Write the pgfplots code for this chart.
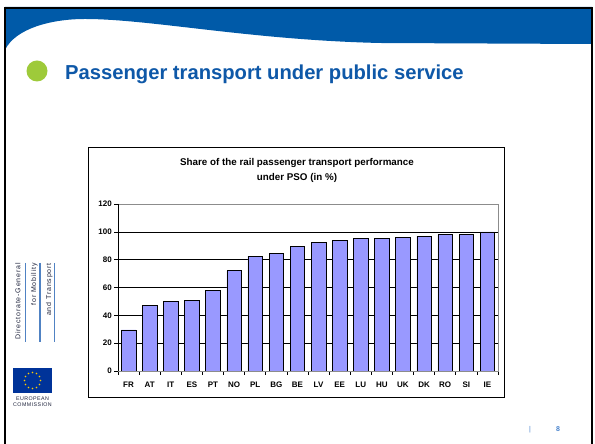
\documentclass[border=0pt]{standalone}
\usepackage{fontspec}
\setmainfont{Liberation Sans}
\newfontfamily\lsfont[LetterSpace=12]{Liberation Sans}
\newfontfamily\eufont[LetterSpace=8]{Liberation Sans}
\usepackage{pgfplots}
\pgfplotsset{compat=1.18}
\definecolor{band}{RGB}{0,90,168}
\definecolor{ttl}{RGB}{14,88,168}
\definecolor{dot}{RGB}{158,202,58}
\definecolor{barfill}{RGB}{153,153,255}
\definecolor{euflag}{RGB}{0,51,153}
\definecolor{star}{RGB}{255,204,0}
\definecolor{dgline}{RGB}{80,130,195}
\definecolor{dgtext}{RGB}{30,35,60}
\definecolor{pnum}{RGB}{70,130,205}
\begin{document}
\begin{tikzpicture}[x=1pt,y=1pt]
\path[use as bounding box, fill=white] (0,0) rectangle (595,444);
% blue band
\fill[band] (5,437) -- (592,437) -- (592,400) -- (380,401) .. controls (250,404) and (150,425) .. (85,425) .. controls (50,425) and (15,415) .. (5,394) -- cycle;
\draw[black, line width=2pt] (5,-10) -- (5,436) -- (592,436) -- (592,-10);
% slide title
\fill[dot] (37,373) circle (10.5);
\node[anchor=base west, inner sep=0, text=ttl, font=\fontsize{20.2}{24}\selectfont\bfseries] at (65,364) {Passenger transport under public service};
% chart frame
\draw[black, line width=1pt] (88,46) rectangle (504,296);
\node[anchor=base, inner sep=0, font=\fontsize{9.8}{12}\selectfont\bfseries] at (297,278) {Share of the rail passenger transport performance};
\node[anchor=base, inner sep=0, font=\fontsize{9.8}{12}\selectfont\bfseries] at (297,263.5) {under PSO (in \%)};
\begin{axis}[
  at={(118pt,73pt)}, anchor=south west,
  scale only axis, width=380pt, height=167pt,
  xmin=-0.5, xmax=17.5, ymin=0, ymax=120,
  ytick={0,20,40,60,80,100,120},
  xtick={0,1,...,17},
  xticklabels={FR,AT,IT,ES,PT,NO,PL,BG,BE,LV,EE,LU,HU,UK,DK,RO,SI,IE},
  minor xtick={-0.5,0.5,...,17.5},
  major x tick style={draw=none},
  xtick pos=bottom, ytick pos=left,
  tick align=outside,
  major tick length=4pt, minor tick length=4pt,
  tick style={black, line width=0.6pt},
  ymajorgrids, grid style={black, line width=0.5pt},
  axis line style={black!45, line width=0.8pt},
  ticklabel style={font=\fontsize{8}{9}\selectfont\bfseries},
  /pgf/number format/assume math mode=true,
  yticklabel style={inner sep=2pt},
  xticklabel style={yshift=-3pt},
]
\addplot[ybar, bar width=14.5pt, fill=barfill, draw=black, line width=0.6pt] coordinates {
(0,29.5) (1,47) (2,50) (3,50.5) (4,58) (5,72) (6,82.5) (7,84.5) (8,89.5)
(9,92.5) (10,94) (11,95) (12,95.5) (13,96) (14,97) (15,98) (16,98) (17,100)};
\draw[black, line width=0.8pt] (rel axis cs:0,1) -- (rel axis cs:0,0) -- (rel axis cs:1,0);
\end{axis}
% left logo block
\node[rotate=90, anchor=base east, inner sep=0, text=dgtext, font=\lsfont\fontsize{7}{8}\selectfont] at (20.5,181) {Directorate-General};
\node[rotate=90, anchor=base east, inner sep=0, text=dgtext, font=\lsfont\fontsize{7}{8}\selectfont] at (36,181) {for Mobility};
\node[rotate=90, anchor=base east, inner sep=0, text=dgtext, font=\lsfont\fontsize{7}{8}\selectfont] at (51,181) {and Transport};
\draw[dgline, line width=1.3pt] (25.5,181) -- (25.5,102);
\draw[dgline, line width=1.3pt] (40,181) -- (40,102);
\draw[dgline, line width=1.3pt] (54.5,181) -- (54.5,102);
\fill[euflag] (13,51) rectangle (52,76);
\foreach \a in {0,30,...,330} { \fill[star] ({32.5+8*cos(\a)},{63.5+8*sin(\a)}) circle (0.9); }
\node[anchor=base, inner sep=0, text=dgtext, font=\eufont\fontsize{5.3}{6}\selectfont] at (32.5,43) {EUROPEAN};
\node[anchor=base, inner sep=0, text=dgtext, font=\eufont\fontsize{5.3}{6}\selectfont] at (32.5,37.5) {COMMISSION};
% page number
\node[anchor=base, inner sep=0, text=pnum, font=\fontsize{7}{8}\selectfont] at (530,12) {|};
\node[anchor=base, inner sep=0, text=pnum, font=\fontsize{7}{8}\selectfont\bfseries] at (558,12) {8};
\end{tikzpicture}
\end{document}
